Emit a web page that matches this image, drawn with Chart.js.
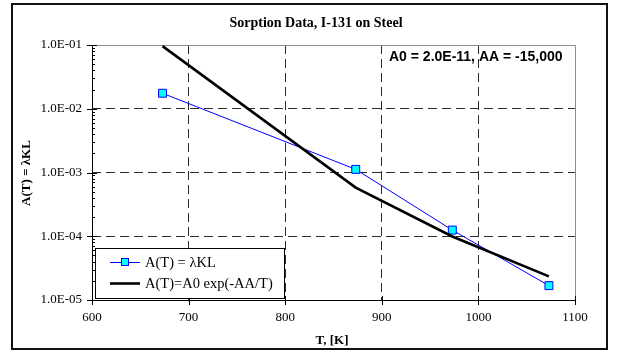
<!DOCTYPE html>
<html>
<head>
<meta charset="utf-8">
<script src="https://cdn.jsdelivr.net/npm/chart.js@4/dist/chart.umd.min.js"></script>
<style>
  body { margin: 0; background: #fff; }
  canvas { display: block; }
</style>
</head>
<body>
<canvas id="sorption" width="618" height="356"></canvas>
<script>
// Data
const tempK = [673, 873, 973, 1073];
const measured = [1.75e-2, 1.12e-3, 1.25e-4, 1.68e-5];   // A(T) = λKL
const fitted = [9.6e-2, 5.8e-4, 9.9e-5, 2.35e-5];        // A(T)=A0 exp(-AA/T)
const xTicks = [600, 700, 800, 900, 1000, 1100];
const yTicks = [1e-5, 1e-4, 1e-3, 1e-2, 1e-1];

const chartTitle = 'Sorption Data, I-131 on Steel';
const xTitle = 'T, [K]';
const yTitle = 'A(T) = λKL';
const fitNote = 'A0 = 2.0E-11, AA = -15,000';
const seriesNames = ['A(T) = λKL', 'A(T)=A0 exp(-AA/T)'];

const serif = 'Liberation Serif';

function sciLabel(v) {
    const e = Math.round(Math.log10(v));
    return '1.0E' + (e < 0 ? '-' : '+') + String(Math.abs(e)).padStart(2, '0');
}

// edge grid lines are replaced by the frame / axes
function gridColor(ctx) {
    const n = ctx.scale.ticks.length;
    return (ctx.index === 0 || ctx.index === n - 1) ? 'rgba(0,0,0,0)' : '#2b2b2b';
}

const decorations = {
    id: 'decorations',
    beforeDraw(chart) {
        const c = chart.ctx;
        c.save();
        c.fillStyle = '#fff';
        c.fillRect(0, 0, chart.width, chart.height);
        c.strokeStyle = '#111';
        c.lineWidth = 2;
        c.strokeRect(12, 4, 595, 345);

        c.fillStyle = '#000';
        c.textAlign = 'center';
        c.textBaseline = 'middle';
        c.font = 'bold 14px "' + serif + '"';
        c.fillText(chartTitle, 316, 23);
        c.font = 'bold 13px "' + serif + '"';
        c.fillText(xTitle, 332, 341);
        c.translate(27, 173);
        c.rotate(-Math.PI / 2);
        c.fillText(yTitle, 0, 0);
        c.restore();
    },
    beforeDatasetsDraw(chart) {
        const c = chart.ctx;
        const a = chart.chartArea;
        const xs = chart.scales.x, ys = chart.scales.y;
        c.save();
        // grey frame top/right
        c.strokeStyle = '#8c8c8c';
        c.lineWidth = 1;
        c.beginPath();
        c.moveTo(a.left, a.top + 0.5);
        c.lineTo(a.right + 0.5, a.top + 0.5);
        c.lineTo(a.right + 0.5, a.bottom);
        c.stroke();

        // axes
        c.strokeStyle = '#000';
        c.beginPath();
        c.moveTo(a.left + 0.5, a.top);
        c.lineTo(a.left + 0.5, a.bottom + 0.5);
        c.lineTo(a.right + 1, a.bottom + 0.5);
        c.stroke();

        // tick marks crossing the axes
        c.beginPath();
        xTicks.forEach(v => {
            const px = Math.round(xs.getPixelForValue(v)) + 0.5;
            c.moveTo(px, a.bottom - 4);
            c.lineTo(px, a.bottom + 5);
        });
        yTicks.forEach((v, i) => {
            const py = Math.round(ys.getPixelForValue(v)) + 0.5;
            c.moveTo(a.left - 5, py);
            c.lineTo(a.left + 5, py);
            if (i < yTicks.length - 1) {
                for (let m = 2; m <= 9; m++) {
                    const my = Math.round(ys.getPixelForValue(v * m)) + 0.5;
                    c.moveTo(a.left, my);
                    c.lineTo(a.left + 3, my);
                }
            }
        });
        c.stroke();
        c.restore();
    },
    afterDatasetsDraw(chart) {
        const c = chart.ctx;
        c.save();
        // fit parameters
        c.fillStyle = '#000';
        c.font = 'bold 14px "Liberation Sans"';
        c.textAlign = 'left';
        c.textBaseline = 'middle';
        c.fillText(fitNote, 389, 57);

        // legend
        const lx = 95, ly = 248, lw = 189, lh = 50;
        c.fillStyle = '#fff';
        c.fillRect(lx, ly, lw, lh);
        c.strokeStyle = '#000';
        c.lineWidth = 1;
        c.strokeRect(lx + 0.5, ly + 0.5, lw, lh);

        const ds = chart.data.datasets;
        const rows = [262, 283];
        ds.forEach((d, i) => {
            const y = rows[i];
            c.strokeStyle = d.borderColor;
            c.lineWidth = d.borderWidth;
            c.beginPath();
            c.moveTo(110, y + 0.5);
            c.lineTo(140, y + 0.5);
            c.stroke();
            if (d.pointRadius > 0) {
                c.fillStyle = d.pointBackgroundColor;
                c.strokeStyle = d.pointBorderColor;
                c.lineWidth = 1;
                c.fillRect(121, y - 4, 8, 8);
                c.strokeRect(121.5, y - 3.5, 7, 7);
            }
            c.fillStyle = '#000';
            c.font = '14.5px "' + serif + '"';
            c.fillText(d.label, 145, y + 1);
        });
        c.restore();
    }
};

const ctx = document.getElementById('sorption').getContext('2d');
new Chart(ctx, {
    type: 'scatter',
    data: {
        datasets: [{
            label: seriesNames[0],
            data: tempK.map((t, i) => ({ x: t, y: measured[i] })),
            showLine: true,
            borderColor: '#0000ff',
            borderWidth: 1,
            pointStyle: 'rect',
            pointRadius: 5.6,
            pointBackgroundColor: '#00ffff',
            pointBorderColor: '#0000ff',
            pointBorderWidth: 1,
            order: 1
        }, {
            label: seriesNames[1],
            data: tempK.map((t, i) => ({ x: t, y: fitted[i] })),
            showLine: true,
            borderColor: '#000000',
            borderWidth: 2.6,
            pointRadius: 0,
            order: 0
        }]
    },
    options: {
        responsive: false,
        animation: false,
        layout: { padding: { left: 0, right: 43, top: 45, bottom: 0 } },
        plugins: {
            legend: { display: false },
            tooltip: { enabled: false }
        },
        scales: {
            x: {
                type: 'linear',
                min: xTicks[0],
                max: xTicks[xTicks.length - 1],
                afterFit: s => { s.height = 56; },
                afterBuildTicks: s => { s.ticks = xTicks.map(v => ({ value: v })); },
                ticks: {
                    padding: 10,
                    color: '#000',
                    font: { family: serif, size: 13 },
                    callback: v => String(v)
                },
                grid: { color: gridColor, lineWidth: 1, drawTicks: false },
                border: { display: false, dash: [9, 5] }
            },
            y: {
                type: 'logarithmic',
                min: yTicks[0],
                max: yTicks[yTicks.length - 1],
                afterFit: s => { s.width = 92; },
                afterBuildTicks: s => { s.ticks = yTicks.map(v => ({ value: v, major: true })); },
                ticks: {
                    padding: 10,
                    color: '#000',
                    font: { family: serif, size: 13 },
                    callback: v => sciLabel(v)
                },
                grid: { color: gridColor, lineWidth: 1, drawTicks: false },
                border: { display: false, dash: [9, 5] }
            }
        }
    },
    plugins: [decorations]
});
</script>
</body>
</html>
